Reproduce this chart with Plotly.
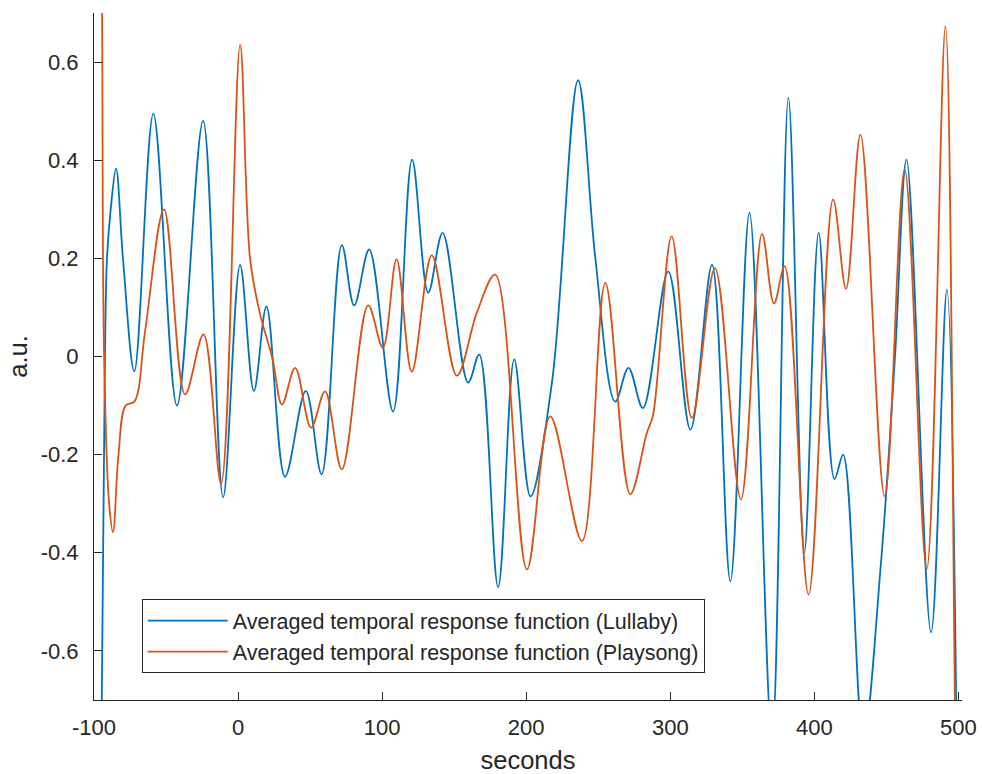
import plotly.graph_objects as go

# Lullaby (blue) traced points
lullaby_x = [-97, -94.6, -92.4, -91, -88.4, -84.7, -79.9, -72, -58.8, -42.4, -24.3, -10.4, 1.4, 11, 19.7,
             32.6, 47, 58, 72, 80.6, 91, 107.6, 120.8, 132, 142, 159.7, 167.4, 180.5, 191.7, 203, 218,
             236, 248, 261.8, 271, 281, 298.6, 314, 329, 341.7, 355, 370.6, 382, 393, 403, 414, 420,
             434, 446, 456, 464, 481, 492, 499]
lullaby_y = [-1.2, -0.7, 0.0, 0.2, 0.3, 0.383, 0.2, -0.03, 0.495, -0.10, 0.48, -0.287, 0.186, -0.07, 0.102,
             -0.245, -0.07, -0.24, 0.227, 0.104, 0.218, -0.112, 0.401, 0.13, 0.252, -0.053, 0.004, -0.47, -0.006, -0.285, -0.05,
             0.563, 0.2, -0.092, -0.023, -0.105, 0.173, -0.149, 0.187, -0.458, 0.293, -0.78, 0.527, -0.40, 0.252, -0.25, -0.20,
             -0.78, -0.43, 0.0, 0.401, -0.562, 0.136, -0.85]

# Playsong (orange) traced points
playsong_x = [-96, -94.4, -93, -89.5, -86.8, -83, -78, -72, -64.6, -51.4, -36.8, -24, -11.8, 1.4, 8.3, 15, 24,
              30.5, 39.6, 50.7, 60.4, 72, 90.3, 100.5, 110, 120.6, 134.5, 151.9, 165.8, 178.5, 200.5, 216.7,
              238.7, 254.9, 272.2, 283.8, 288, 301, 315, 331, 349, 363.7, 372, 379.4, 396, 413, 422, 432, 448.8,
              462.7, 478, 491, 497.6, 499]
playsong_y = [1.2, 0.7, 0.0, -0.3, -0.358, -0.2, -0.1, -0.092, 0.05, 0.30, -0.077, 0.045, -0.259, 0.635, 0.2, 0.09, -0.006,
              -0.098, -0.023, -0.145, -0.071, -0.23, 0.104, 0.018, 0.198, -0.031, 0.206, -0.039, 0.09, 0.167, -0.434, -0.122,
              -0.376, 0.15, -0.281, -0.155, -0.12, 0.245, -0.125, 0.18, -0.291, 0.25, 0.108, 0.184, -0.485, 0.32, 0.138, 0.452, -0.285,
              0.381, -0.434, 0.673, -0.7, -0.95]

x_ticks = [-100, 0, 100, 200, 300, 400, 500]
x_ticktext = ["-100", "0", "100", "200", "300", "400", "500"]
y_ticks = [-0.6, -0.4, -0.2, 0, 0.2, 0.4, 0.6]
y_ticktext = ["-0.6", "-0.4", "-0.2", "0", "0.2", "0.4", "0.6"]

AX = "#262626"
FONT = "Liberation Sans, Arial, Helvetica, sans-serif"

fig = go.Figure()
fig.add_trace(go.Scatter(x=lullaby_x, y=lullaby_y, mode="lines",
                         line=dict(color="#0072BD", width=1.8, shape="spline", smoothing=1.0),
                         name="Averaged temporal response function (Lullaby)"))
fig.add_trace(go.Scatter(x=playsong_x, y=playsong_y, mode="lines",
                         line=dict(color="#D95319", width=1.8, shape="spline", smoothing=1.0),
                         name="Averaged temporal response function (Playsong)"))

fig.update_layout(
    width=982, height=774,
    margin=dict(l=94, r=20, t=13, b=74, autoexpand=False),
    paper_bgcolor="white", plot_bgcolor="white",
    font=dict(family=FONT, color=AX, size=22),
    showlegend=True,
    legend=dict(x=0.055, y=0.039, xanchor="left", yanchor="bottom",
                bgcolor="white", bordercolor=AX, borderwidth=1,
                font=dict(size=21.5, color=AX), itemwidth=80,
                tracegroupgap=0),
    xaxis=dict(range=[-100, 502.5], tickvals=x_ticks, ticktext=x_ticktext,
               showgrid=False, zeroline=False, showline=True, linecolor=AX, linewidth=1,
               ticks="inside", ticklen=8, tickcolor=AX, tickwidth=1,
               tickfont=dict(size=22, color=AX), ticklabelstandoff=8,
               title=dict(text="seconds", font=dict(size=25.5, color=AX), standoff=20)),
    yaxis=dict(range=[-0.7, 0.7], tickvals=y_ticks, ticktext=y_ticktext,
               showgrid=False, zeroline=False, showline=True, linecolor=AX, linewidth=1,
               ticks="inside", ticklen=8, tickcolor=AX, tickwidth=1,
               tickfont=dict(size=22, color=AX), ticklabelstandoff=10,
               title=dict(text="a.u.", font=dict(size=25.5, color=AX), standoff=5)),
)

fig.write_html("out.html",
               config={"displayModeBar": False},
               post_script="document.body.style.margin='0px';document.body.style.overflow='hidden';")
